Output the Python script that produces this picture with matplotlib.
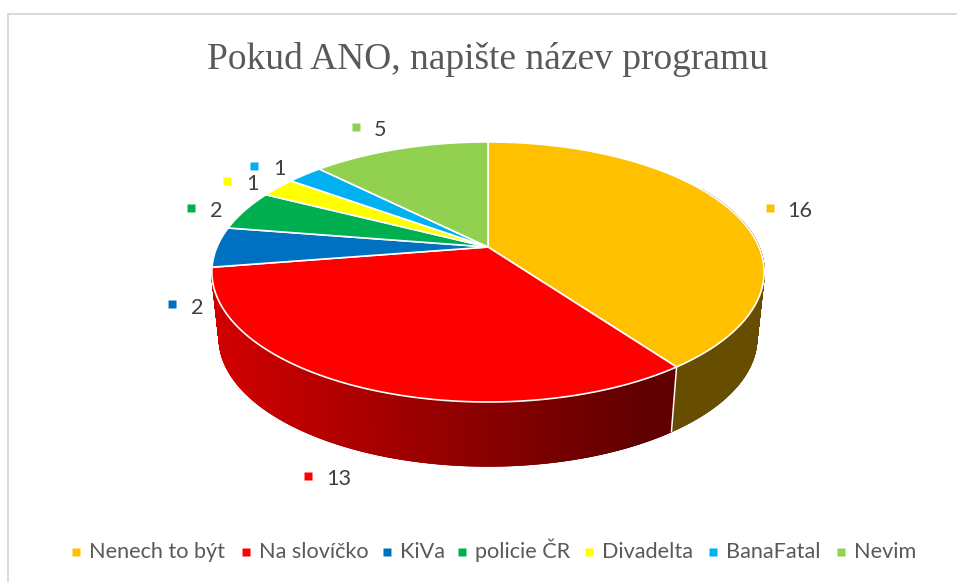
import numpy as np
import matplotlib
matplotlib.use('Agg')
import matplotlib.pyplot as plt
from matplotlib.collections import PolyCollection
from matplotlib.patches import Polygon

categories = ['Nenech to být', 'Na slovíčko', 'KiVa', 'policie ČR', 'Divadelta', 'BanaFatal', 'Nevim']
values = [16, 13, 2, 2, 1, 1, 5]
colors = ['#FFC000', '#FF0000', '#0070C0', '#00B050', '#FFFF00', '#00B0F0', '#92D050']
title = 'Pokud ANO, napište název programu'

# where the value labels and the legend entries sit, in pixels
label_marker_xy = [(770, 208), (308, 476), (172, 304), (191, 208), (227, 181), (254, 166), (356, 127)]
label_text_xy = [(800, 209), (339, 477), (197, 306), (216, 209), (252, 182), (279, 167), (380, 128)]
legend_marker_x = [76, 246, 387, 462, 589, 713, 841]
legend_text_x = [89, 259, 400, 475, 602, 726, 854]

# 3d look of the pie, top disc is a perspective projection of a circle
CX, APEX_Y = 488, 247
D, A, C = 271, 77.8, -0.192
SCALE_LOW, RY_RATIO, LOW_CY, TOP_CY = 0.973, 128 / 130, 338, 272


def top_point(t):
    u, v = np.sin(t), -np.cos(t)
    w = 1 + C * v
    return CX + D * u / w, (APEX_Y + A * v) / w


def low_point(t):
    x, y = top_point(t)
    return CX + (x - CX) * SCALE_LOW, LOW_CY + (y - TOP_CY) * RY_RATIO


def shade(hex_color, x):
    # side wall gets darker going to the right
    rgb = np.array(matplotlib.colors.to_rgb(hex_color))
    return tuple(rgb * np.interp(x, [213, 640], [0.82, 0.38]))


fig = plt.figure(figsize=(9.57, 5.82), dpi=100)
ax = fig.add_axes([0, 0, 1, 1])
ax.set_xlim(0, 957)
ax.set_ylim(582, 0)
ax.axis('off')

# chart border
ax.plot([8, 8, 957], [582, 14, 14], color='#D9D9D9', lw=1.4, solid_joinstyle='miter')

fracs = np.cumsum([0] + values) / sum(values) * 2 * np.pi
front_lo = np.radians(60)

# side wall, only the first two slices show at the front
quads, quad_colors = [], []
for i in range(2):
    a0, a1 = max(fracs[i], front_lo), fracs[i + 1]
    ts = np.linspace(a0, a1, int((a1 - a0) * 500))
    for t0, t1 in zip(ts[:-1], ts[1:]):
        quads.append([top_point(t0), top_point(t1), low_point(t1), low_point(t0)])
        xm = (top_point(t0)[0] + top_point(t1)[0]) / 2
        if i == 0:
            quad_colors.append(tuple(np.array(matplotlib.colors.to_rgb(colors[i])) * 0.4))
        else:
            quad_colors.append(shade(colors[i], xm))
ax.add_collection(PolyCollection(quads, facecolors=quad_colors, edgecolors=quad_colors, linewidths=1.0, zorder=2))

# white seam between the two visible side walls
seam = fracs[1]
ax.plot(*zip(top_point(seam), low_point(seam)), color='white', lw=1.1, zorder=3)

# top disc
for i in range(len(values)):
    ts = np.linspace(fracs[i], fracs[i + 1], 200)
    pts = [(CX, APEX_Y)] + [top_point(t) for t in ts]
    ax.add_patch(Polygon(pts, closed=True, facecolor=colors[i], edgecolor='white', lw=1.2, joinstyle='round', zorder=4))

# value labels
for val, col, mxy, txy in zip(values, colors, label_marker_xy, label_text_xy):
    ax.plot(*mxy, marker='s', ms=5.7, color=col, mec='none', ls='none', zorder=5)
    ax.text(txy[0], txy[1], str(val), color='#404040', fontsize=15.6, family='Lato', ha='center', va='center_baseline')

# legend
for name, col, mx, tx in zip(categories, colors, legend_marker_x, legend_text_x):
    ax.plot(mx, 552, marker='s', ms=5.7, color=col, mec='none', ls='none')
    ax.text(tx, 558, name, color='#595959', fontsize=15.6, family='Lato', ha='left', va='baseline')

ax.text(488, 69, title, color='#595959', fontsize=27, family='Liberation Serif', ha='center', va='baseline')

fig.savefig('out.png', dpi=100)
